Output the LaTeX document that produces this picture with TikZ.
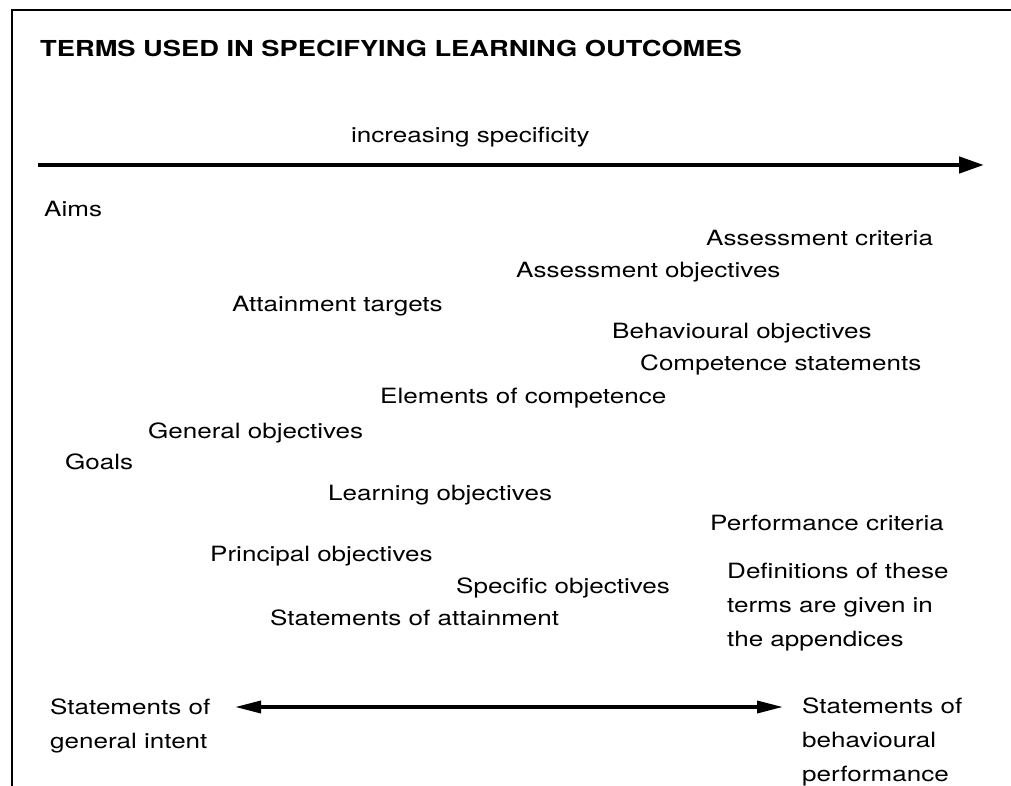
\documentclass[tikz,border=0pt]{standalone}
\usepackage{fontspec}
\setmainfont[FakeStretch=1.24]{TeX Gyre Heros}
\usetikzlibrary{arrows.meta}

\tikzset{
  term/.style={anchor=base west, inner sep=0pt, font=\fontsize{21}{34}\selectfont},
  note/.style={term, align=left},
  heading/.style={anchor=base west, inner sep=0pt, font=\fontsize{22}{26}\selectfont\bfseries},
  frame/.style={line width=2pt},
  scale arrow/.style={line width=4.5pt, -{Triangle[length=25pt,width=16pt]}},
  range arrow/.style={line width=3.5pt, {Triangle[length=26pt,width=12pt]}-{Triangle[length=26pt,width=12pt]}}
}

\begin{document}
\begin{tikzpicture}[x=1pt,y=-1pt]
    \useasboundingbox (0,0) rectangle (1011,786);
    \draw[frame] (12,786) -- (12,10) -- (1011,10);

    \node[heading] (title) at (40,57) {TERMS USED IN SPECIFYING LEARNING OUTCOMES};

    % specificity scale
    \node[term] (spec) at (351,143) {increasing specificity};
    \coordinate (specL) at (38,165);
    \coordinate (specR) at (984,165);
    \draw[scale arrow] (specL) -- (specR);

    % the terms, in alphabetical order
    \node[term] (aims) at (44,217) {Aims};
    \node[term] (asscrit) at (706,245) {Assessment criteria};
    \node[term] (assobj) at (516,277) {Assessment objectives};
    \node[term] (attain) at (232,311) {Attainment targets};
    \node[term] (behobj) at (612,338) {Behavioural objectives};
    \node[term] (compstat) at (640,370) {Competence statements};
    \node[term] (elemcomp) at (380,403) {Elements of competence};
    \node[term] (genobj) at (148,438) {General objectives};
    \node[term] (goals) at (65,469) {Goals};
    \node[term] (learnobj) at (328,500) {Learning objectives};
    \node[term] (perfcrit) at (710,530) {Performance criteria};
    \node[term] (princobj) at (210,561) {Principal objectives};
    \node[term] (specobj) at (456,593) {Specific objectives};
    \node[term] (statatt) at (270,625) {Statements of attainment};

    % base of a multi-line note is its last line
    \node[note] (defs) at (727,646) {Definitions of these\\terms are given in\\the appendices};

    % general vs behavioural
    \node[note] (general) at (50,748) {Statements of\\general intent};
    \node[note] (behaviour) at (802,781) {Statements of\\behavioural\\performance};
    \coordinate (rangeL) at (235,707);
    \coordinate (rangeR) at (783,707);
    \draw[range arrow] (rangeL) -- (rangeR);
\end{tikzpicture}
\end{document}
